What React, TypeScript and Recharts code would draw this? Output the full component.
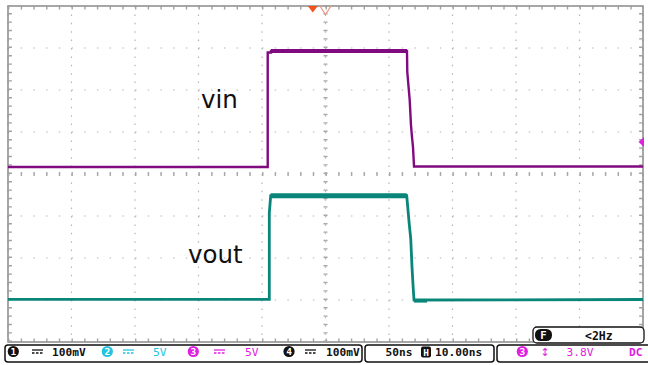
import React from 'react';
import {
  LineChart,
  Line,
  XAxis,
  YAxis,
  CartesianGrid,
  ReferenceLine,
  ReferenceArea,
  ReferenceDot,
} from 'recharts';

// scope screen: 10 horizontal divisions, 8 vertical divisions (centre = 0)
const divX = [0, 1, 2, 3, 4, 5, 6, 7, 8, 9, 10];
const divY = [-4, -3, -2, -1, 0, 1, 2, 3, 4];

// channel 3 (vin), time / level in divisions
const vinT = [0, 4.09, 4.09, 4.142, 4.142, 6.283, 6.288, 6.326, 6.346, 6.362, 6.378, 6.394, 10];
const vinV = [0.167, 0.167, 2.893, 2.893, 2.929, 2.929, 2.429, 1.762, 1.167, 0.881, 0.643, 0.179, 0.179];
const vinTopT = [4.142, 6.283];
const vinTopV = [2.929, 2.929];

// channel 2 (vout)
const voutT = [0, 4.115, 4.115, 4.137, 6.279, 6.32, 6.342, 6.362, 6.383, 6.394, 10];
const voutV = [-2.983, -2.983, -0.929, -0.517, -0.517, -1.214, -1.531, -2.207, -2.762, -3.0, -2.988];
const voutTopT = [4.137, 6.279];
const voutTopV = [-0.517, -0.517];
const voutLowT = [6.394, 6.6];
const voutLowV = [-3.02, -3.02];

// trigger markers
const triggerPos = 4.8; // -10ns offset at 50ns/div
const triggerLevel = 0.76; // 3.8V at 5V/div

const pts = (t: number[], v: number[]) => t.map((x, i) => ({ t: x, v: v[i] }));

const VIN = '#800a80';
const VOUT = '#0a857a';
const CYAN = '#22c4e0';
const MAGENTA = '#e020e0';
const mono = '"DejaVu Sans Mono", monospace';

function ChanBadge({ cx, n, color }: { cx: number; n: string; color: string }) {
  return (
    <g>
      <circle cx={cx} cy={351.5} r={5.6} fill={color} />
      <text x={cx} y={355} textAnchor="middle" fontSize={9.5} fontWeight="bold" fill="#fff" fontFamily={mono}>
        {n}
      </text>
    </g>
  );
}

function DcMark({ x, color }: { x: number; color: string }) {
  return (
    <g stroke={color} strokeWidth={1.3}>
      <line x1={x} y1={350} x2={x + 11} y2={350} />
      <line x1={x} y1={353} x2={x + 11} y2={353} strokeDasharray="2.5 1.5" />
    </g>
  );
}

export default function App() {
  return (
    <div style={{ position: 'absolute', left: 0, top: 0, width: 648, height: 365, background: '#fff' }}>
      <LineChart width={648} height={365} margin={{ top: 6, right: 5, bottom: 23, left: 8 }}>
        <XAxis type="number" dataKey="t" domain={[0, 10]} ticks={divX} hide allowDuplicatedCategory={false} />
        <YAxis type="number" dataKey="v" domain={[-4, 4]} ticks={divY} hide />
        <CartesianGrid stroke="#b5b5b5" strokeWidth={1.2} strokeDasharray="1.5 11.2" vertical={false} />
        <CartesianGrid stroke="#b5b5b5" strokeWidth={1.2} strokeDasharray="1.5 6.9" horizontal={false} />
        <ReferenceLine x={5} stroke="#a8a8a8" strokeWidth={4} strokeDasharray="1.4 7" />
        <ReferenceLine y={0} stroke="#a8a8a8" strokeWidth={4} strokeDasharray="1.4 11.3" />
        <ReferenceLine x={0.03} stroke="#a0a0a0" strokeWidth={4} strokeDasharray="1.4 7" />
        <ReferenceLine x={9.97} stroke="#a0a0a0" strokeWidth={4} strokeDasharray="1.4 7" />
        <ReferenceLine y={3.96} stroke="#a0a0a0" strokeWidth={3.5} strokeDasharray="1.4 11.3" />
        <ReferenceLine y={-3.96} stroke="#a0a0a0" strokeWidth={3.5} strokeDasharray="1.4 11.3" />
        <ReferenceArea x1={0} x2={10} y1={-4} y2={4} fill="#fff" fillOpacity={0} stroke="#8a8a8a" strokeWidth={1.5} />
        <Line data={pts(vinT, vinV)} dataKey="v" type="linear" stroke={VIN} strokeWidth={2.4} dot={false} isAnimationActive={false} />
        <Line data={pts(vinTopT, vinTopV)} dataKey="v" type="linear" stroke={VIN} strokeWidth={4.2} dot={false} isAnimationActive={false} />
        <Line data={pts(voutT, voutV)} dataKey="v" type="linear" stroke={VOUT} strokeWidth={2.8} dot={false} isAnimationActive={false} />
        <Line data={pts(voutTopT, voutTopV)} dataKey="v" type="linear" stroke={VOUT} strokeWidth={5} dot={false} isAnimationActive={false} />
        <Line data={pts(voutLowT, voutLowV)} dataKey="v" type="linear" stroke={VOUT} strokeWidth={3.5} dot={false} isAnimationActive={false} />
        <ReferenceDot
          x={triggerPos}
          y={4}
          r={5}
          ifOverflow="visible"
          shape={(p: any) => <path d={`M${p.cx - 5},${p.cy} L${p.cx + 5},${p.cy} L${p.cx},${p.cy + 6.5} Z`} fill="#f0541c" />}
        />
        <ReferenceDot
          x={5}
          y={4}
          r={5}
          ifOverflow="visible"
          shape={(p: any) => (
            <path d={`M${p.cx - 5.5},${p.cy} L${p.cx},${p.cy + 8.5} L${p.cx + 5.5},${p.cy}`} fill="none" stroke="#e89a8c" strokeWidth={1.3} />
          )}
        />
        <ReferenceDot
          x={10}
          y={triggerLevel}
          r={5}
          ifOverflow="visible"
          shape={(p: any) => (
            <path d={`M${p.cx + 1},${p.cy - 5} L${p.cx - 4.5},${p.cy} L${p.cx + 1},${p.cy + 5} Z`} fill={MAGENTA} />
          )}
        />
      </LineChart>

      <svg width={648} height={365} style={{ position: 'absolute', left: 0, top: 0, pointerEvents: 'none' }}>
        <text x={201} y={107.5} fontFamily='"DejaVu Sans", sans-serif' fontSize={24.5} fill="#111">vin</text>
        <text x={188} y={262.5} fontFamily='"DejaVu Sans", sans-serif' fontSize={24.5} fill="#111">vout</text>

        {/* frequency counter */}
        <rect x={533} y={327} width={111} height={16} rx={4} fill="#fff" stroke="#111" strokeWidth={1.3} />
        <rect x={535} y={329} width={17} height={12} rx={5.5} fill="#111" />
        <text x={543.5} y={339} textAnchor="middle" fontFamily={mono} fontWeight="bold" fontSize={10.5} fill="#fff">F</text>
        <text x={585} y={339.5} fontFamily={mono} fontWeight="bold" fontSize={11.5} fill="#111">&lt;2Hz</text>

        {/* status bar */}
        <rect x={5} y={345} width={357} height={17} rx={3} fill="#fff" stroke="#111" strokeWidth={1.5} />
        <rect x={365} y={345} width={129} height={17} rx={3} fill="#fff" stroke="#111" strokeWidth={1.5} />
        <rect x={497} y={345} width={160} height={17} rx={3} fill="#fff" stroke="#111" strokeWidth={1.5} />

        <ChanBadge cx={13.3} n="1" color="#111" />
        <DcMark x={32} color="#111" />
        <text x={52} y={355.5} fontFamily={mono} fontWeight="bold" fontSize={11.2} fill="#111">100mV</text>

        <ChanBadge cx={107.3} n="2" color={CYAN} />
        <DcMark x={123} color={CYAN} />
        <text x={153} y={355.5} fontFamily={mono} fontSize={11.2} fill={CYAN}>5V</text>

        <ChanBadge cx={193.3} n="3" color={MAGENTA} />
        <DcMark x={214} color={MAGENTA} />
        <text x={245} y={355.5} fontFamily={mono} fontSize={11.2} fill={MAGENTA}>5V</text>

        <ChanBadge cx={289} n="4" color="#111" />
        <DcMark x={305} color="#111" />
        <text x={326} y={355.5} fontFamily={mono} fontWeight="bold" fontSize={11.2} fill="#111">100mV</text>

        <text x={385.5} y={355.5} fontFamily={mono} fontWeight="bold" fontSize={11.2} fill="#111">50ns</text>
        <rect x={421} y={346.5} width={10} height={11} rx={2} fill="#111" />
        <text x={426} y={355.5} textAnchor="middle" fontFamily={mono} fontWeight="bold" fontSize={9.5} fill="#fff">H</text>
        <text x={435} y={355.5} fontFamily={mono} fontWeight="bold" fontSize={11.2} fill="#111">10.00ns</text>

        <ChanBadge cx={522.3} n="3" color={MAGENTA} />
        <text x={545} y={355.5} textAnchor="middle" fontFamily='"DejaVu Sans", sans-serif' fontSize={11} fill={MAGENTA}>↕</text>
        <text x={566.5} y={355.5} fontFamily={mono} fontSize={11.2} fill={MAGENTA}>3.8V</text>
        <text x={629} y={355.5} fontFamily={mono} fontWeight="bold" fontSize={11.2} fill={MAGENTA}>DC</text>
      </svg>
    </div>
  );
}
